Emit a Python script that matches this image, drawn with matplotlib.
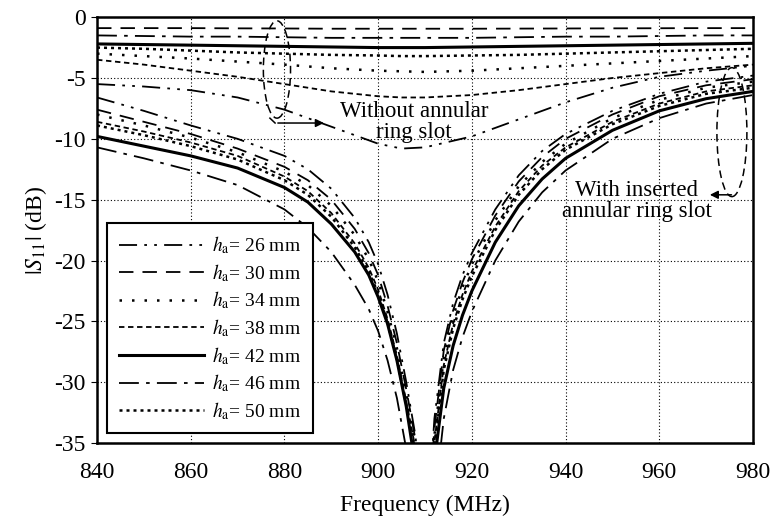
import matplotlib.pyplot as plt
from matplotlib.patches import Ellipse

plt.rcParams['font.family'] = ['Liberation Serif', 'DejaVu Serif']
plt.rcParams['mathtext.fontset'] = 'stix'
plt.rcParams['axes.unicode_minus'] = False

heights = [26, 30, 34, 38, 42, 46, 50]

# |S11| without the annular ring slot (nearly flat, top of the plot)
freq_plain = [840, 850, 860, 870, 880, 890, 900, 905, 910, 920, 930, 940, 950, 960, 970, 980]
plain_26 = [-5.5, -5.7, -6.0, -6.6, -7.6, -9.0, -10.4, -10.8, -10.7, -9.8, -8.4, -7.0, -5.8, -4.9, -4.4, -4.0]
plain_30 = [-0.90, -0.90, -0.90, -0.92, -0.93, -0.95, -0.95, -0.95, -0.95, -0.95, -0.94, -0.93, -0.92, -0.91, -0.90, -0.90]
plain_34 = [-3.0, -3.2, -3.4, -3.65, -3.9, -4.2, -4.4, -4.45, -4.5, -4.4, -4.2, -4.0, -3.8, -3.6, -3.4, -3.2]
plain_38 = [-3.5, -3.9, -4.4, -4.9, -5.5, -6.1, -6.5, -6.6, -6.6, -6.4, -6.0, -5.5, -5.0, -4.6, -4.2, -3.9]
plain_42 = [-2.2, -2.25, -2.3, -2.35, -2.4, -2.45, -2.5, -2.5, -2.5, -2.45, -2.4, -2.35, -2.3, -2.25, -2.2, -2.15]
plain_46 = [-1.5, -1.55, -1.6, -1.6, -1.65, -1.7, -1.7, -1.7, -1.7, -1.7, -1.65, -1.6, -1.6, -1.55, -1.5, -1.5]
plain_50 = [-2.5, -2.6, -2.75, -2.9, -3.0, -3.1, -3.15, -3.2, -3.2, -3.15, -3.1, -3.0, -2.9, -2.8, -2.7, -2.6]

# |S11| with the inserted annular ring slot (resonance near 910 MHz)
freq_slot = [840, 850, 860, 870, 880, 885, 890, 895, 898, 900, 902, 904, 906, 908, 910,
             912, 914, 916, 918, 920, 925, 930, 935, 940, 950, 960, 970, 980]
slot_26 = [-6.6, -7.7, -8.9, -10.0, -11.4, -12.5, -14.1, -16.5, -18.5, -20.3, -22.8, -26.0, -30.0, -34.5, -45.0,
           -33.0, -26.8, -23.5, -21.2, -19.4, -15.8, -13.0, -11.0, -9.6, -7.7, -6.3, -5.3, -4.8]
slot_30 = [-7.6, -8.6, -9.6, -10.8, -12.3, -13.4, -15.0, -17.4, -19.4, -21.2, -23.7, -26.8, -30.6, -34.8, -45.0,
           -33.8, -27.4, -24.1, -21.8, -19.9, -16.3, -13.5, -11.5, -10.0, -8.0, -6.5, -5.6, -5.1]
slot_34 = [-8.0, -8.9, -9.9, -11.1, -12.7, -13.8, -15.5, -17.9, -19.9, -21.7, -24.2, -27.2, -31.0, -35.2, -45.0,
           -34.4, -28.0, -24.6, -22.2, -20.3, -16.7, -13.9, -11.9, -10.4, -8.3, -6.8, -5.8, -5.3]
slot_38 = [-8.6, -9.4, -10.3, -11.4, -13.1, -14.3, -16.1, -18.6, -20.6, -22.4, -24.8, -27.8, -31.6, -35.5, -45.0,
           -35.0, -28.6, -25.2, -22.8, -20.9, -17.2, -14.3, -12.2, -10.7, -8.6, -7.1, -6.1, -5.6]
slot_42 = [-9.8, -10.6, -11.4, -12.4, -14.0, -15.2, -17.0, -19.3, -21.2, -23.0, -25.2, -28.2, -32.0, -37.0, -45.0,
           -36.5, -30.5, -27.0, -24.5, -22.5, -18.5, -15.5, -13.3, -11.6, -9.3, -7.7, -6.7, -6.1]
slot_46 = [-10.7, -11.6, -12.6, -13.8, -15.8, -17.3, -19.3, -22.0, -24.0, -25.8, -28.2, -31.3, -35.5, -41.0, -45.0,
           -40.0, -33.0, -29.0, -26.3, -24.2, -20.0, -16.8, -14.4, -12.6, -10.0, -8.3, -7.1, -6.4]
slot_50 = [-8.9, -9.7, -10.6, -11.7, -13.4, -14.6, -16.4, -18.9, -20.9, -22.7, -25.1, -28.1, -31.9, -35.8, -45.0,
           -35.4, -29.0, -25.6, -23.2, -21.3, -17.5, -14.6, -12.5, -10.9, -8.8, -7.3, -6.3, -5.8]

plain = [plain_26, plain_30, plain_34, plain_38, plain_42, plain_46, plain_50]
slot = [slot_26, slot_30, slot_34, slot_38, slot_42, slot_46, slot_50]

# line width and dash pattern for each height
styles = {
    26: (1.3, (10, 4, 1.5, 4, 1.5, 4)),
    30: (1.3, (8, 5)),
    34: (1.8, (1, 4)),
    38: (1.3, (3, 2)),
    42: (2.2, None),
    46: (1.3, (11, 4, 2, 4)),
    50: (1.8, (1.2, 1.6)),
}

fig = plt.figure(figsize=(7.75, 5.2), dpi=100)
ax = fig.add_axes([0.1252, 0.148, 0.8464, 0.819])

for h, yp, ys in zip(heights, plain, slot):
    lw, dash = styles[h]
    kw = dict(color='black', lw=lw)
    if dash is None:
        kw['linestyle'] = '-'
    else:
        kw['dashes'] = dash
    ax.plot(freq_plain, yp, **kw)
    ax.plot(freq_slot, ys, label=r'$h_\mathrm{a}$' + '= %d mm' % h, **kw)

ax.set_xlim(840, 980)
ax.set_ylim(-35, 0)
ax.set_xticks(range(840, 981, 20))
ax.set_yticks(range(-35, 1, 5))
ax.grid(True, color='black', lw=0.8, dashes=(1, 2))
ax.tick_params(axis='both', labelsize=17)
ax.tick_params(axis='x', length=0, pad=14)
ax.tick_params(axis='y', direction='out', length=4, width=0.8, pad=4)
for s in ax.spines.values():
    s.set_linewidth(1.8)

ax.set_xlabel('Frequency (MHz)', fontsize=17, labelpad=8)
ax.set_ylabel(r'$|S_{11}|$ (dB)', fontsize=17, labelpad=4)

leg = ax.legend(loc='lower left', bbox_to_anchor=(0.015, 0.023), borderaxespad=0,
                fontsize=14, handlelength=4.4, labelspacing=0.3, fancybox=False,
                edgecolor='black', framealpha=1, borderpad=0.6, handletextpad=0.4)
leg.get_frame().set_linewidth(1.5)

# annotations for the two groups of curves
ax.add_patch(Ellipse((878.4, -4.3), 5.8, 8.0, fill=False, color='black', lw=1.1, linestyle=(0, (5, 3))))
ax.plot([876.9, 878.0], [-8.3, -8.7], color='black', lw=1.1)
ax.annotate('', xy=(889, -8.7), xytext=(878.0, -8.7),
            arrowprops=dict(arrowstyle='-|>', color='black', lw=1.1, mutation_scale=12))
ax.text(907.6, -8.6, 'Without annular\nring slot', fontsize=16.5, ha='center', va='center', linespacing=1.0)

ax.add_patch(Ellipse((975.5, -9.45), 6.4, 10.6, fill=False, color='black', lw=1.1, linestyle=(0, (5, 3))))
ax.annotate('', xy=(970.2, -14.6), xytext=(976.0, -14.6),
            arrowprops=dict(arrowstyle='-|>', color='black', lw=1.1, mutation_scale=12))
ax.text(955.2, -15.1, 'With inserted\nannular ring slot', fontsize=16.5, ha='center', va='center', linespacing=1.0)

fig.savefig('out.png', dpi=100)
